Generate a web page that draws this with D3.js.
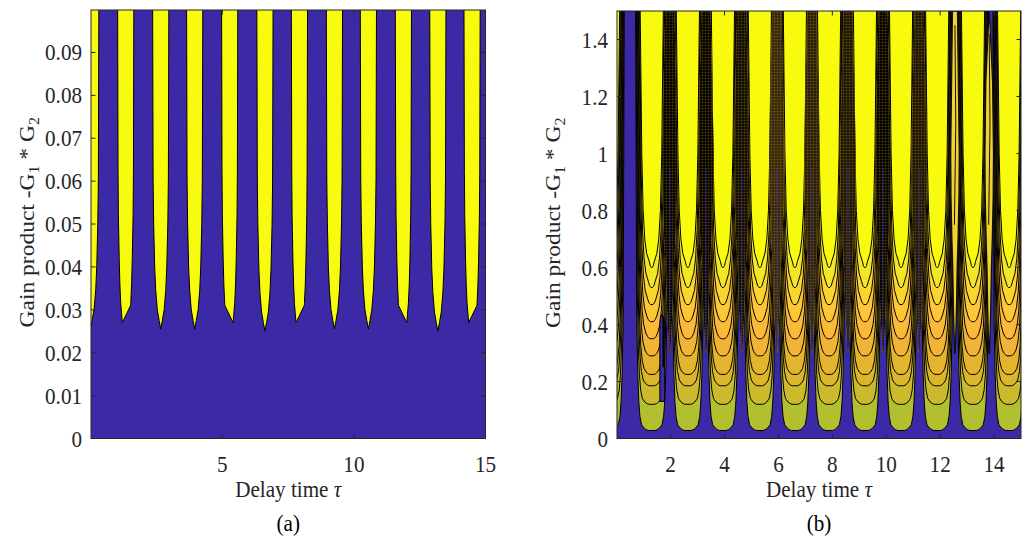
<!DOCTYPE html>
<html>
<head>
<meta charset="utf-8">
<script src="https://cdnjs.cloudflare.com/ajax/libs/d3/7.8.5/d3.min.js"></script>
<style>
  body { margin: 0; background: #fff; }
  text { font-family: "Liberation Serif", "Times New Roman", serif; fill: #262626; }
</style>
</head>
<body>
<div id="chart"></div>
<script>
// ---------- data ----------

// axis ticks
var tauTicksA  = [5, 10, 15]
var gainTicksA = [0, 0.01, 0.02, 0.03, 0.04, 0.05, 0.06, 0.07, 0.08, 0.09]
var tauTicksB  = [2, 4, 6, 8, 10, 12, 14]
var gainTicksB = [0, 0.2, 0.4, 0.6, 0.8, 1, 1.2, 1.4]

// (a) unstable tongues: centre (tau), lowest gain, and which side the tip is cut
var spikeTau = [0, 1.33, 2.66, 3.95, 5.28, 6.62, 7.93, 9.26, 10.55, 11.88, 13.19, 14.49]
var spikeTip = [0.0258, 0.027, 0.0255, 0.0255, 0.027, 0.025, 0.027, 0.0255, 0.0255, 0.027, 0.025, 0.027]
var spikeCut = [0, 1, 0, 0, -1, 0, 1, 0, 0, -1, 0, 1]
// tongue half width (tau) against height above its tip
var tongueDg = [0, 0.002, 0.0045, 0.009, 0.0145, 0.025, 0.035, 0.08]
var tongueHw = [0, 0.06, 0.13, 0.19, 0.23, 0.27, 0.29, 0.31]

// (b) lobes of the contour map
var lobeTau    = [-0.32, 1.30, 2.64, 3.94, 5.31, 6.61, 7.88, 9.21, 10.55, 11.89, 13.22, 14.56]
var levelBase  = [0.028, 0.12, 0.185, 0.225, 0.29, 0.35, 0.41, 0.47, 0.53, 0.6]
var levelColor = ["#b2c02f", "#cdb92d", "#dab62b", "#e4b42e", "#f2b437", "#fbb93b", "#fdc636", "#f9d52e", "#f2e629", "#f9fb0e"]
// half width (tau) of the outermost and innermost contour against height above its bottom
var dgGrid  = [0, 0.003, 0.008, 0.02, 0.05, 0.1, 0.2, 0.4, 1.5]
var hwOuter = [0.12, 0.2, 0.28, 0.38, 0.44, 0.48, 0.52, 0.56, 0.6]
var hwInner = [0.02, 0.04, 0.06, 0.09, 0.19, 0.26, 0.32, 0.37, 0.5]

// dark wedges between lobes
var gapTau   = [1.97, 3.31, 4.64, 5.94, 7.24, 8.58, 9.88, 11.22, 12.55, 13.82]
var gapShade = [1, 1, 0.95, 0.8, 0.85, 0.9, 1, 0.9, 0.25, 0.2]
var gapTop   = [1.5, 1.5, 1.5, 1.5, 1.5, 1.5, 1.5, 1.5, 1.5, 1.47]
var wedgeG   = [0.3, 0.45, 0.6, 0.7, 0.85, 1.0, 1.25, 1.5]
var wedgeHw  = [0.02, 0.1, 0.15, 0.21, 0.27, 0.29, 0.23, 0.17]

// blue notch on the right side of the first full lobe
var notchTau = [1.60, 1.60, 1.62, 1.67, 1.73, 1.78, 1.78]
var notchG   = [0.13, 0.40, 0.425, 0.435, 0.425, 0.40, 0.13]

// ---------- page ----------
var blue = "#3c29a6", yellow = "#f9fb0e", ink = "#262626"
var SQ = 0.88   // the figure is squeezed sideways a little

var svg = d3.select("#chart").append("svg")
    .attr("width", 1025)
    .attr("height", 544)

var defs = svg.append("defs")

var hatch = defs.append("pattern")
    .attr("id", "hatch")
    .attr("width", 3).attr("height", 3)
    .attr("patternUnits", "userSpaceOnUse")
hatch.append("rect").attr("width", 3).attr("height", 3).attr("fill", "#030200")
hatch.append("path").attr("d", "M0,0.5H3M0.5,0V3").attr("stroke", "#4a3f0a").attr("stroke-width", 0.5)

var boxA = { left: 91, right: 485.5, top: 10, bottom: 438.5 }
var boxB = { left: 617, right: 1021, top: 11, bottom: 438.5 }

var xA = d3.scaleLinear().domain([0.01, 15]).range([boxA.left, boxA.right])
var yA = d3.scaleLinear().domain([0, 0.0999]).range([boxA.bottom, boxA.top])
var xB = d3.scaleLinear().domain([0.01, 15]).range([boxB.left, boxB.right])
var yB = d3.scaleLinear().domain([0, 1.5]).range([boxB.bottom, boxB.top])

function clipFor(id, box) {
  defs.append("clipPath").attr("id", id)
    .append("rect")
    .attr("x", box.left).attr("y", box.top)
    .attr("width", box.right - box.left).attr("height", box.bottom - box.top)
}
clipFor("clipA", boxA)
clipFor("clipB", boxB)

function txt(g, x, y, s, anchor) {
  return g.append("text")
    .attr("transform", "translate(" + x + "," + y + ") scale(" + SQ + ",1)")
    .attr("text-anchor", anchor)
    .style("font-size", "24px")
    .text(s)
}

// ---------- (a) ----------
var gA = svg.append("g")
var plotA = gA.append("g").attr("clip-path", "url(#clipA)")

plotA.append("rect")
    .attr("x", boxA.left).attr("y", boxA.top)
    .attr("width", boxA.right - boxA.left).attr("height", boxA.bottom - boxA.top)
    .attr("fill", blue)

var tongue = d3.scaleLinear().domain(tongueDg).range(tongueHw).clamp(true)
var lineA = d3.line().x(function(d) { return xA(d[0]) }).y(function(d) { return yA(d[1]) })

function spikePoints(c, tip, cut) {
  var pts = []
  if (cut === 0) {
    tongueDg.slice().reverse().forEach(function(dg) { pts.push([c - tongue(dg), tip + dg]) })
    tongueDg.forEach(function(dg) { pts.push([c + tongue(dg), tip + dg]) })
    return pts
  }
  // tip pushed to one side, bottom cut by a slanted edge
  var o = 0.0045, s = cut
  tongueDg.slice().reverse().forEach(function(dg) { pts.push([c - s * tongue(dg + o), tip + dg]) })
  pts.push([c + s * tongue(0.004 + o), tip + 0.004])
  tongueDg.forEach(function(dg) {
    if (dg > 0.004) pts.push([c + s * tongue(dg + o), tip + dg])
  })
  return pts
}

plotA.selectAll(".tongue")
    .data(spikeTau)
    .enter().append("path")
    .attr("class", "tongue")
    .attr("d", function(d, i) { return lineA(spikePoints(d, spikeTip[i], spikeCut[i])) + "Z" })
    .attr("fill", yellow)
    .attr("stroke", "#000")
    .attr("stroke-width", 1)

// ---------- (b) ----------
var gB = svg.append("g")
var plotB = gB.append("g").attr("clip-path", "url(#clipB)")

plotB.append("rect")
    .attr("x", boxB.left).attr("y", boxB.top)
    .attr("width", boxB.right - boxB.left).attr("height", boxB.bottom - boxB.top)
    .attr("fill", blue)

var lineB = d3.line().x(function(d) { return xB(d[0]) }).y(function(d) { return yB(d[1]) })

function levelPoints(c, k) {
  var t = k / (levelBase.length - 1)
  var hw = dgGrid.map(function(_, i) { return (1 - t) * hwOuter[i] + t * hwInner[i] })
  var left = [], right = []
  dgGrid.forEach(function(dg, i) {
    left.unshift([c - hw[i], levelBase[k] + dg])
    right.push([c + hw[i], levelBase[k] + dg])
  })
  return left.concat(right)
}

lobeTau.forEach(function(c) {
  var lobe = plotB.append("g").attr("class", "lobe")
  lobe.selectAll("path")
    .data(levelBase)
    .enter().append("path")
    .attr("d", function(d, k) { return lineB(levelPoints(c, k)) + "Z" })
    .attr("fill", function(d, k) { return levelColor[k] })
    .attr("stroke", "#000")
    .attr("stroke-width", 1)
    .attr("stroke-linejoin", "round")
})

// notch of blue on the right of the first lobe
plotB.append("path")
    .attr("d", lineB(notchTau.map(function(t, i) { return [t, notchG[i]] })) + "Z")
    .attr("fill", blue)
    .attr("stroke", "#000")
    .attr("stroke-width", 1)
plotB.append("line")
    .attr("x1", xB(1.72)).attr("x2", xB(1.73))
    .attr("y1", yB(0.43)).attr("y2", yB(0.25))
    .attr("stroke", "#000").attr("stroke-width", 1.5)

// wedges between lobes
var wedge = d3.scaleLinear().domain(wedgeG).range(wedgeHw)

function wedgePoints(c, top, scale) {
  var gs = wedgeG.filter(function(g) { return g < top }).concat([top])
  var left = [], right = []
  gs.forEach(function(g, i) {
    var w = (i === gs.length - 1 && top < 1.5) ? 0.02 : wedge(g) * scale
    left.push([c - w, g])
    right.unshift([c + w, g])
  })
  return left.concat(right)
}

gapTau.forEach(function(c, i) {
  var shade = gapShade[i]
  if (shade < 0.5) {
    // lighter, outlined tongue
    plotB.append("path")
        .attr("d", lineB(wedgePoints(c, gapTop[i], 0.55)) + "Z")
        .attr("fill", "#f3d22e")
        .attr("stroke", "#111")
        .attr("stroke-width", 1.3)
    plotB.append("path")
        .attr("d", lineB([[c - 0.02, 0.75], [c + 0.03, 1.1], [c, gapTop[i] - 0.05]]))
        .attr("fill", "none")
        .attr("stroke", "#111")
        .attr("stroke-width", 1)
    return
  }
  plotB.append("path")
      .attr("d", lineB(wedgePoints(c, gapTop[i], 1)) + "Z")
      .attr("fill", "#f5b535")
  plotB.append("path")
      .attr("d", lineB(wedgePoints(c, gapTop[i], 1)) + "Z")
      .attr("fill", "url(#hatch)")
      .attr("opacity", shade)
  plotB.append("line")
      .attr("x1", xB(c)).attr("x2", xB(c))
      .attr("y1", yB(0.32)).attr("y2", yB(0.95))
      .attr("stroke", blue)
      .attr("stroke-width", 1)
      .attr("opacity", 0.8)
})

// ---------- axes ----------
function drawAxes(g, box, x, y, xt, yt, fmt) {
  var tl = 4.5
  g.append("rect")
      .attr("x", box.left).attr("y", box.top)
      .attr("width", box.right - box.left).attr("height", box.bottom - box.top)
      .attr("fill", "none").attr("stroke", ink).attr("stroke-width", 1)

  xt.forEach(function(t) {
    g.append("line").attr("x1", x(t)).attr("x2", x(t)).attr("y1", box.bottom).attr("y2", box.bottom - tl).attr("stroke", ink)
    g.append("line").attr("x1", x(t)).attr("x2", x(t)).attr("y1", box.top).attr("y2", box.top + tl).attr("stroke", ink)
    txt(g, x(t), box.bottom + 33, String(t), "middle")
  })
  yt.forEach(function(t) {
    g.append("line").attr("x1", box.left).attr("x2", box.left + tl).attr("y1", y(t)).attr("y2", y(t)).attr("stroke", ink)
    g.append("line").attr("x1", box.right).attr("x2", box.right - tl).attr("y1", y(t)).attr("y2", y(t)).attr("stroke", ink)
    txt(g, box.left - 9, y(t) + 8, fmt(t), "end")
  })

  var cx = (box.left + box.right) / 2
  var xl = txt(g, cx, box.bottom + 58, "Delay time ", "middle")
  xl.append("tspan").style("font-style", "italic").text("τ")

  var cy = (box.top + box.bottom) / 2 - 2
  var yl = g.append("text")
      .attr("transform", "translate(" + (box.left - 57) + "," + cy + ") scale(" + SQ + ",1) rotate(-90)")
      .attr("text-anchor", "middle")
      .style("font-size", "23.5px")
  yl.append("tspan").text("Gain product -G")
  yl.append("tspan").attr("dy", 6).style("font-size", "16px").text("1")
  yl.append("tspan").attr("dy", -6).text(" * G")
  yl.append("tspan").attr("dy", 6).style("font-size", "16px").text("2")
}

drawAxes(gA, boxA, xA, yA, tauTicksA, gainTicksA, function(d) { return d === 0 ? "0" : d3.format(".2f")(d) })
drawAxes(gB, boxB, xB, yB, tauTicksB, gainTicksB, d3.format("~g"))

var capA = txt(svg, (boxA.left + boxA.right) / 2, 531, "(a)", "middle")
var capB = txt(svg, (boxB.left + boxB.right) / 2, 531, "(b)", "middle")
capA.style("fill", "#000")
capB.style("fill", "#000")
</script>
</body>
</html>
